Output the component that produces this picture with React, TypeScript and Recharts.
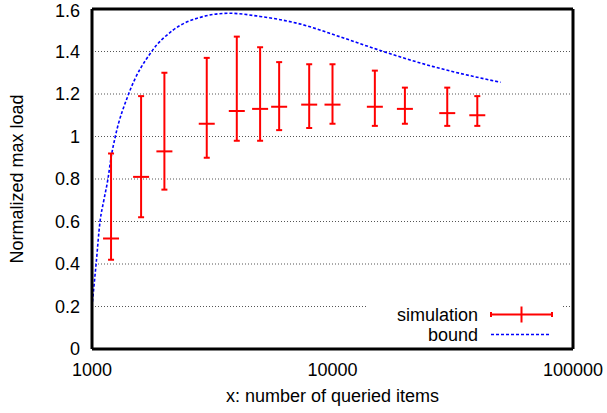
import React from "react";
import {
  ComposedChart,
  XAxis,
  YAxis,
  CartesianGrid,
  Scatter,
  ErrorBar,
  Line,
  Legend,
} from "recharts";

// simulation: mean with min/max whiskers
const simX = [1200, 1600, 2000, 3000, 4000, 5000, 6000, 8000, 10000, 15000, 20000, 30000, 40000];
const simMean = [0.52, 0.81, 0.93, 1.06, 1.12, 1.13, 1.14, 1.15, 1.15, 1.14, 1.13, 1.11, 1.1];
const simLow = [0.42, 0.62, 0.75, 0.9, 0.98, 0.98, 1.03, 1.04, 1.06, 1.05, 1.06, 1.05, 1.05];
const simHigh = [0.92, 1.19, 1.3, 1.37, 1.47, 1.42, 1.35, 1.34, 1.34, 1.31, 1.23, 1.23, 1.19];

// bound curve
const boundX = [1000, 1040, 1080, 1120, 1165, 1200, 1250, 1420, 1770, 2170, 2800, 3700, 5000, 7300, 10700, 15300, 26000, 50000];
const boundY = [0.2, 0.4, 0.6, 0.7, 0.8, 0.9, 1.0, 1.2, 1.4, 1.5, 1.56, 1.58, 1.565, 1.53, 1.47, 1.41, 1.33, 1.255];

const xMajor = [1000, 10000, 100000];
const xMinor = [2000, 3000, 4000, 5000, 6000, 7000, 8000, 9000, 20000, 30000, 40000, 50000, 60000, 70000, 80000, 90000];
const yTicks = [0, 0.2, 0.4, 0.6, 0.8, 1, 1.2, 1.4, 1.6];

const simData = simX.map((x, i) => ({
  x,
  y: simMean[i],
  err: [simMean[i] - simLow[i], simHigh[i] - simMean[i]],
}));
const boundData = boundX.map((x, i) => ({ x, bound: boundY[i] }));

const FONT = "'Liberation Sans', Arial, Helvetica, sans-serif";
const RED = "#ff0000";
const BLUE = "#0000ff";
const xDomain = [1000, 100000];
const yDomain = [0, 1.6];
const border = { stroke: "#000", strokeWidth: 3 };
const majorTick = { stroke: "#000", strokeWidth: 2 };
const minorTick = { stroke: "#000", strokeWidth: 1.5 };

const Cross = (props: any) => {
  const { cx, cy } = props;
  if (cx == null || cy == null) return null;
  return <line x1={cx - 8} y1={cy} x2={cx + 8} y2={cy} stroke={RED} strokeWidth={2} />;
};

const LegendBox = () => (
  <svg width={194} height={46} style={{ display: "block" }}>
    <rect x={0} y={0} width={194} height={46} fill="#fff" />
    <text x={110} y={23} textAnchor="end" fontFamily={FONT} fontSize={18} fill="#000">
      simulation
    </text>
    <line x1={123} y1={16.5} x2={184} y2={16.5} stroke={RED} strokeWidth={2} />
    <line x1={123} y1={14} x2={123} y2={19} stroke={RED} strokeWidth={2} />
    <line x1={184} y1={14} x2={184} y2={19} stroke={RED} strokeWidth={2} />
    <line x1={153.5} y1={8.5} x2={153.5} y2={24.5} stroke={RED} strokeWidth={2} />
    <text x={110} y={42.5} textAnchor="end" fontFamily={FONT} fontSize={18} fill="#000">
      bound
    </text>
    <line x1={123} y1={36.5} x2={182} y2={36.5} stroke={BLUE} strokeWidth={1.6} strokeDasharray="3 2" />
  </svg>
);

export default function App() {
  const tickStyle = { fontFamily: FONT, fontSize: 18, fill: "#000" };
  return (
    <div style={{ position: "absolute", left: 0, top: 0 }}>
      <ComposedChart width={607} height={413} margin={{ top: 9, right: 34, bottom: 0, left: 0 }}>
        <CartesianGrid
          yAxisId="y"
          xAxisId="x"
          vertical={false}
          stroke="#555"
          strokeDasharray="1 2"
        />
        {/* bottom axis with labels */}
        <XAxis
          xAxisId="x"
          dataKey="x"
          type="number"
          scale="log"
          domain={xDomain}
          allowDataOverflow
          ticks={xMajor}
          height={64}
          tickLine={false}
          tickSize={6}
          tickMargin={8}
          tick={tickStyle}
          axisLine={border}
          label={{
            value: "x: number of queried items",
            position: "insideBottom",
            offset: 11,
            fontFamily: FONT,
            fontSize: 18,
            fill: "#000",
          }}
        />
        {/* inward tick marks, bottom and top */}
        <XAxis xAxisId="xb1" type="number" scale="log" domain={xDomain} allowDataOverflow ticks={xMajor}
          mirror height={1} tick={false} tickSize={6} axisLine={false} tickLine={majorTick} />
        <XAxis xAxisId="xb2" type="number" scale="log" domain={xDomain} allowDataOverflow ticks={xMinor}
          mirror height={1} tick={false} tickSize={3} axisLine={false} tickLine={minorTick} />
        <XAxis xAxisId="xt1" orientation="top" type="number" scale="log" domain={xDomain} allowDataOverflow ticks={xMajor}
          mirror height={1} tick={false} tickSize={6} axisLine={border} tickLine={majorTick} />
        <XAxis xAxisId="xt2" orientation="top" type="number" scale="log" domain={xDomain} allowDataOverflow ticks={xMinor}
          mirror height={1} tick={false} tickSize={3} axisLine={false} tickLine={minorTick} />

        {/* left axis with labels */}
        <YAxis
          yAxisId="y"
          type="number"
          domain={yDomain}
          allowDataOverflow
          ticks={yTicks}
          width={92}
          tickLine={false}
          tickSize={6}
          tickMargin={6}
          tick={tickStyle}
          axisLine={border}
          label={{
            value: "Normalized max load",
            angle: -90,
            position: "insideLeft",
            offset: 17,
            style: { textAnchor: "middle" },
            fontFamily: FONT,
            fontSize: 18,
            fill: "#000",
          }}
        />
        <YAxis yAxisId="yl" type="number" domain={yDomain} allowDataOverflow ticks={yTicks}
          mirror width={1} tick={false} tickSize={6} axisLine={false} tickLine={majorTick} />
        <YAxis yAxisId="yr" orientation="right" type="number" domain={yDomain} allowDataOverflow ticks={yTicks}
          mirror width={1} tick={false} tickSize={6} axisLine={border} tickLine={majorTick} />

        <Line
          xAxisId="x"
          yAxisId="y"
          data={boundData}
          dataKey="bound"
          type="monotone"
          stroke={BLUE}
          strokeWidth={1.6}
          strokeDasharray="3 2"
          dot={false}
          activeDot={false}
          isAnimationActive={false}
        />
        <Scatter
          xAxisId="x"
          yAxisId="y"
          data={simData}
          dataKey="y"
          shape={<Cross />}
          isAnimationActive={false}
        >
          <ErrorBar dataKey="err" direction="y" width={3} stroke={RED} strokeWidth={2} isAnimationActive={false} />
        </Scatter>

        <Legend
          layout="horizontal"
          verticalAlign="middle"
          align="center"
          content={() => <LegendBox />}
          wrapperStyle={{ position: "absolute", left: 368, top: 298, width: 194, height: 46 }}
        />
      </ComposedChart>
    </div>
  );
}
